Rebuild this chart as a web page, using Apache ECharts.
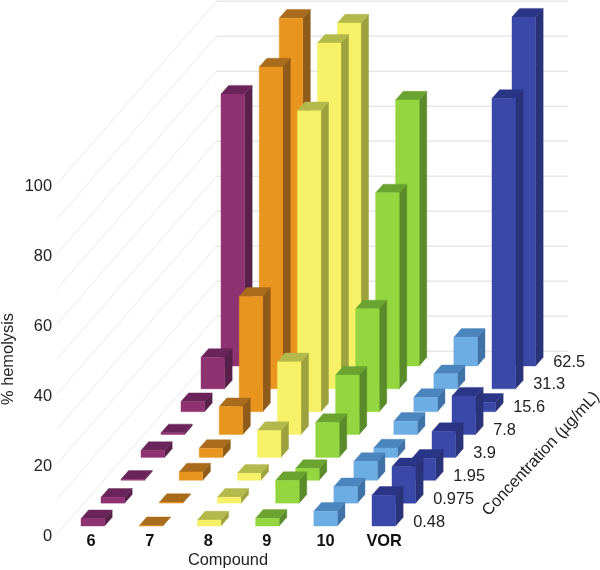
<!DOCTYPE html>
<html>
<head>
<meta charset="utf-8">
<style>html,body{margin:0;padding:0;background:#fff}#c{width:600px;height:570px}</style>
<script src="https://cdn.jsdelivr.net/npm/echarts@6/dist/echarts.min.js"></script>
</head>
<body>
<div id="c"></div>
<script>
const compounds = ['6', '7', '8', '9', '10', 'VOR'];
const concentrations = ['0.48', '0.975', '1.95', '3.9', '7.8', '15.6', '31.3', '62.5'];
const yTicks = [0, 10, 20, 30, 40, 50, 60, 70, 80, 90, 100];
// % hemolysis, front row (0.48) to back row (62.5)
const values6   = [2.1, 1.7, 0.3, 2.0, 0.5, 2.9, 9.0, 77.7];
const values7   = [0.1, 0.2, 2.4, 2.6, 8.0, 33.0, 92.0, 99.4];
const values8   = [1.7, 1.7, 2.0, 7.7, 20.8, 86.0, 98.8, 98.0];
const values9   = [2.2, 6.5, 3.4, 10.0, 17.0, 29.4, 56.0, 76.0];
const values10  = [4.2, 4.7, 5.4, 2.7, 3.8, 4.1, 4.3, 8.2];
const valuesVOR = [8.8, 10.4, 6.3, 7.4, 11.0, 2.7, 83.0, 99.7];
const frontColors = ['#8f3272', '#e8951f', '#f6f166', '#93d63f', '#6cade4', '#3a48a8'];
const topColors   = ['#6a2459', '#a96b1c', '#b4b94b', '#6aa32f', '#4b85bd', '#2b3588'];
const sideColors  = ['#57214b', '#8f5b1a', '#9ea23e', '#5a8b2a', '#3f72a6', '#2a3278'];

const allValues = [values6, values7, values8, values9, values10, valuesVOR];
const barData = [];
for (let r = concentrations.length - 1; r >= 0; r--) {
  for (let c = 0; c < compounds.length; c++) barData.push([c, r, allValues[c][r]]);
}

// Oblique projection onto the cartesian grid: one row of depth moves right and up.
const PX_X = 58.2, PX_Y = 3.5;
const DEPTH_X = 20 / PX_X, DEPTH_Y = 22.86 / PX_Y;
const ROWS = concentrations.length, COLS = compounds.length;
const BACK_X = 159.5 / PX_X;
function proj(api, x, z, v) { return api.coord([x + z * DEPTH_X, v + z * DEPTH_Y]); }

function renderBar(params, api) {
  const c = api.value(0), r = api.value(1), v = api.value(2);
  const x0 = c + 0.292, x1 = c + 0.697, z0 = r + 0.35, z1 = r + 0.73;
  const poly = (pts, col) => ({
    type: 'polygon', shape: { points: pts },
    style: { fill: col, stroke: col, lineWidth: 0.4 }
  });
  const P = (x, z, h) => proj(api, x, z, h);
  return {
    type: 'group',
    children: [
      poly([P(x1, z0, 0), P(x1, z1, 0), P(x1, z1, v), P(x1, z0, v)], sideColors[c]),
      poly([P(x0, z0, v), P(x1, z0, v), P(x1, z1, v), P(x0, z1, v)], topColors[c]),
      poly([P(x0, z0, 0), P(x1, z0, 0), P(x1, z0, v), P(x0, z0, v)], frontColors[c])
    ]
  };
}

function renderGrid(params, api) {
  const v = api.value(0);
  const a = api.coord([0, v]);
  const b = api.coord([BACK_X, v + ROWS * DEPTH_Y]);
  const e = api.coord([8.78, v + ROWS * DEPTH_Y]);
  return {
    type: 'group',
    children: [
      { type: 'line', shape: { x1: a[0], y1: a[1], x2: b[0], y2: b[1] }, style: { stroke: '#e9e9e9', lineWidth: 1 } },
      { type: 'line', shape: { x1: b[0], y1: b[1], x2: e[0], y2: e[1] }, style: { stroke: '#dcdcdc', lineWidth: 1 } }
    ]
  };
}

function renderCompoundLabel(params, api) {
  const i = api.value(0);
  const p = api.coord([i * 1.007 + 0.5, 0]);
  return {
    type: 'text',
    style: { x: p[0] + 5, y: p[1] + 7, text: compounds[i], fill: '#111',
      font: 'bold 16.4px "Liberation Sans"', align: 'center', verticalAlign: 'middle' }
  };
}

function renderConcLabel(params, api) {
  const r = api.value(0);
  const p = proj(api, COLS, r, 0);
  return {
    type: 'text',
    style: { x: p[0] + 7, y: p[1] - 12, text: concentrations[r], fill: '#222',
      font: '16.4px "Liberation Sans"', align: 'left', verticalAlign: 'middle' }
  };
}

const chart = echarts.init(document.getElementById('c'));
chart.setOption({
  animation: false,
  backgroundColor: '#fff',
  grid: { left: 57, right: 32, top: 1, bottom: 36, containLabel: false },
  xAxis: { type: 'value', min: 0, max: 8.78, show: false, splitLine: { show: false } },
  yAxis: {
    type: 'value', min: 0, max: 152.3, interval: 20,
    axisLine: { show: false }, axisTick: { show: false }, splitLine: { show: false },
    axisLabel: {
      margin: 5, fontFamily: 'Liberation Sans', fontSize: 16.4, color: '#222',
      verticalAlign: 'top', lineHeight: 5,
      formatter: v => (v <= 100 ? String(v) : '')
    }
  },
  graphic: [
    { type: 'text', x: 8, y: 359, rotation: Math.PI / 2, origin: [0, 0],
      style: { text: '% hemolysis', font: '16.4px "Liberation Sans"', fill: '#222', align: 'center', verticalAlign: 'middle' } },
    { type: 'text', x: 228, y: 560,
      style: { text: 'Compound', font: '16.4px "Liberation Sans"', fill: '#222', align: 'center', verticalAlign: 'middle' } },
    { type: 'text', x: 541, y: 454, rotation: 47 * Math.PI / 180, origin: [0, 0],
      style: { text: 'Concentration (µg/mL)', font: '16.4px "Liberation Sans"', fill: '#222', align: 'center', verticalAlign: 'middle' } }
  ],
  series: [
    { type: 'custom', name: 'grid', silent: true, z: 1, renderItem: renderGrid,
      data: yTicks.map(v => [v]), encode: { y: 0 } },
    { type: 'custom', name: 'bars', silent: true, z: 2, renderItem: renderBar,
      data: barData, encode: { x: 0, y: 2 } },
    { type: 'custom', name: 'compounds', silent: true, z: 3, renderItem: renderCompoundLabel,
      data: compounds.map((_, i) => [i]), encode: { x: 0 } },
    { type: 'custom', name: 'concentrations', silent: true, z: 3, renderItem: renderConcLabel,
      data: concentrations.map((_, i) => [i]), encode: { x: 0 } }
  ]
});
</script>
</body>
</html>
